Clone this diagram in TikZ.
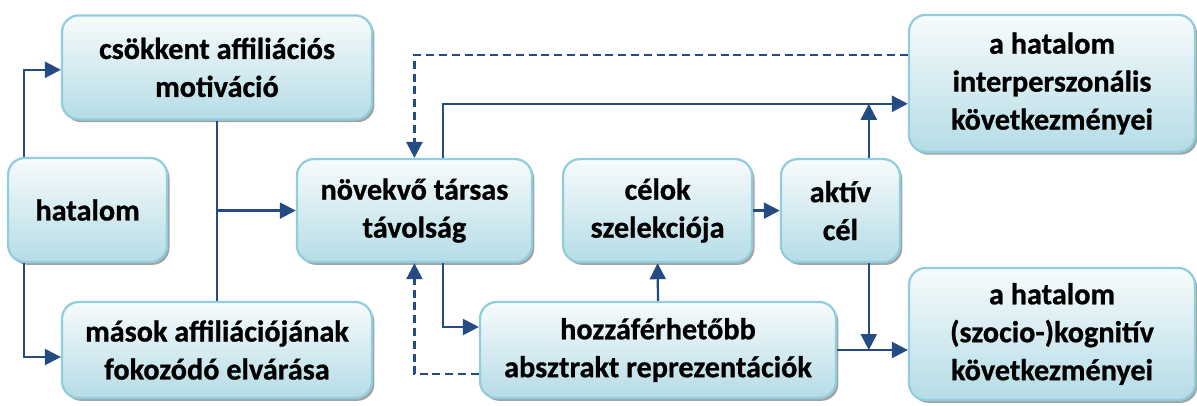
\documentclass[tikz,border=0pt]{standalone}
\usepackage{fontspec}
\setmainfont{Carlito}[BoldFeatures={FakeBold=0.8}]
\usepackage{xcolor}
\usepackage{tikz}
\usetikzlibrary{arrows.meta,positioning,calc,shadows}

\definecolor{lnblue}{RGB}{36,75,130}
\definecolor{bxedge}{RGB}{145,205,220}
\definecolor{bxtop}{RGB}{247,251,252}
\definecolor{bxbot}{RGB}{181,220,230}

\begin{document}
\begin{tikzpicture}[
  bx/.style={draw=bxedge,line width=1.6pt,rounded corners=0.42cm,
    top color=bxtop,bottom color=bxbot,align=center,inner sep=2pt,
    font=\bfseries\fontsize{21.5}{27}\selectfont,
    drop shadow={shadow xshift=0.06cm,shadow yshift=-0.07cm,fill=black!45,opacity=0.8}},
  arr/.style={lnblue,line width=1.6pt,-{Triangle[length=0.4cm,width=0.4cm]}},
  ln/.style={lnblue,line width=1.6pt},
  dsh/.style={arr,dash pattern=on 0.2cm off 0.12cm}
]
\useasboundingbox (0,0) rectangle (29.925,10.125);
% boxes
\node[bx,minimum width=7.75cm,minimum height=2.6cm] (csokk) at (5.425,8.44) {csökkent affiliációs\\motiváció};
\node[bx,minimum width=3.975cm,minimum height=2.6cm] (hatalom) at (2.19,4.875) {hatalom};
\node[bx,minimum width=7.75cm,minimum height=2.4cm] (masok) at (5.425,1.375) {mások affiliációjának\\fokozódó elvárása};
\node[bx,minimum width=5.875cm,minimum height=2.575cm] (novekvo) at (10.36,4.86) {növekvő társas\\távolság};
\node[bx,minimum width=4.725cm,minimum height=2.575cm] (celok) at (16.44,4.86) {célok\\szelekciója};
\node[bx,minimum width=2.975cm,minimum height=2.575cm] (aktiv) at (21.01,4.86) {aktív\\cél};
\node[bx,minimum width=8.9cm,minimum height=2.4cm] (hozza) at (16.45,1.375) {hozzáférhetőbb\\absztrakt reprezentációk};
\node[bx,minimum width=7.15cm,minimum height=3.425cm] (interp) at (26.3,8.04) {a hatalom\\interperszonális\\következményei};
\node[bx,minimum width=7.15cm,minimum height=3.3cm] (kogn) at (26.3,1.775) {a hatalom\\(szocio-)kognitív\\következményei};

% helper points
\coordinate (up) at ([yshift=-0.51cm]interp.west);
\coordinate (dn) at (hozza.east);
\coordinate (j1) at (csokk.south |- novekvo.west);

% connectors
\draw[arr] ([xshift=0.425cm]hatalom.north west) |- ([yshift=-0.06cm]csokk.west);
\draw[arr] ([xshift=0.425cm]hatalom.south west) |- ([yshift=-0.175cm]masok.west);
\draw[ln] (csokk.south) -- (masok.north);
\draw[arr] (j1) -- (novekvo.west);
\draw[dsh] ([yshift=0.71cm]interp.west) -| (novekvo.north);
\draw[arr] ([xshift=0.72cm]novekvo.north) |- (up);
\draw[arr] ([xshift=0.71cm]aktiv.north) -- ([xshift=0.71cm]aktiv.north |- up);
\draw[arr] ([xshift=0.71cm]aktiv.south) -- ([xshift=0.71cm]aktiv.south |- dn);
\draw[arr] (dn) -- (dn -| kogn.west);
\draw[arr] (hozza.north) -- (celok.south);
\draw[arr] (celok.east) -- (aktiv.west);
\draw[arr] ([xshift=0.72cm]novekvo.south) |- ([yshift=0.575cm]hozza.west);
\draw[dsh] ([yshift=-0.6cm]hozza.west) -| (novekvo.south);
\end{tikzpicture}
\end{document}
